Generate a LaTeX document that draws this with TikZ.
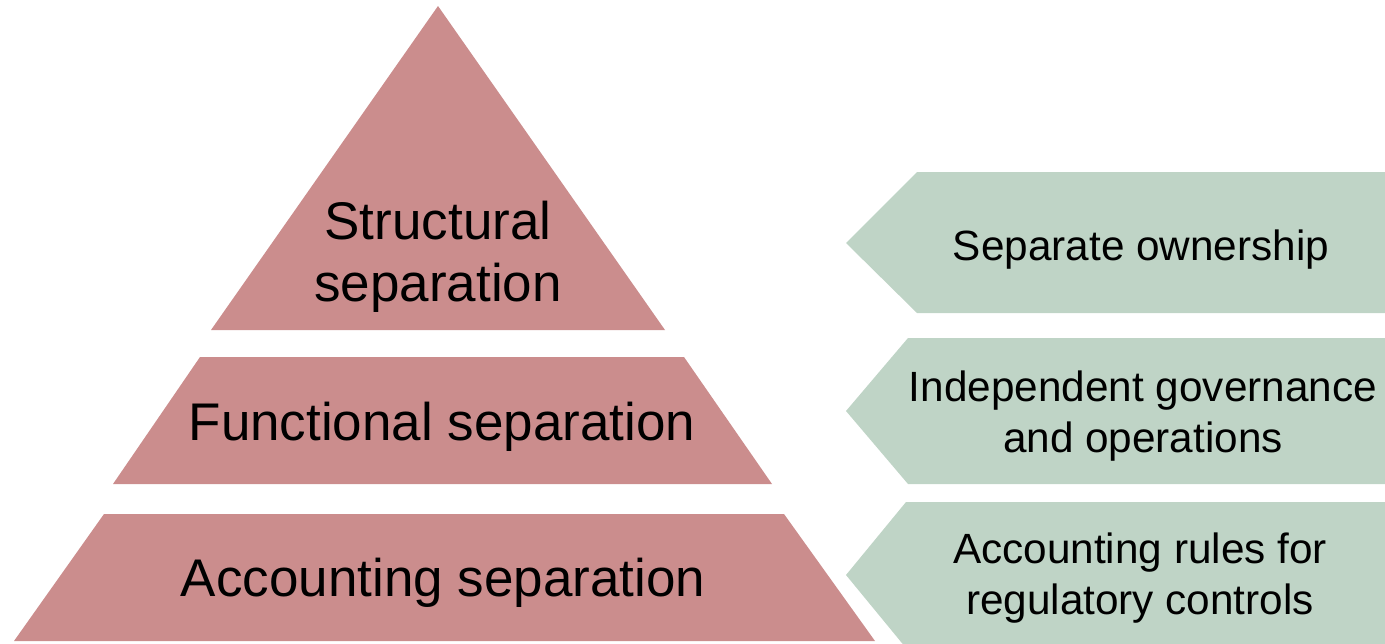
\documentclass[tikz,border=0pt]{standalone}
\usepackage{fontspec}
\setmainfont{Liberation Sans}
\definecolor{layerpink}{RGB}{203,141,141}
\definecolor{arrowgreen}{RGB}{191,212,198}
\begin{document}
\begin{tikzpicture}[x=1pt,y=-1pt,
  layer/.style={fill=layerpink,draw=none},
  tag/.style={fill=arrowgreen,draw=none},
  bigtext/.style={font=\fontsize{53}{62}\selectfont,align=center,inner sep=0pt,text=black},
  smalltext/.style={font=\fontsize{42.3}{51}\selectfont,align=center,inner sep=0pt,text=black}]
\useasboundingbox (0,0) rectangle (1385,643);
\clip (0,0) rectangle (1385,643);
% pyramid layers
\fill[layer] (438,6) -- (211,330) -- (665,330) -- cycle;
\fill[layer] (200,357) -- (684,357) -- (772,484) -- (113,484) -- cycle;
\fill[layer] (104,514) -- (784,514) -- (875,641) -- (14,641) -- cycle;
% arrows
\fill[tag] (846,243) -- (917,172) -- (1385,172) -- (1385,313) -- (917,313) -- cycle;
\fill[tag] (846,411) -- (908,338) -- (1385,338) -- (1385,484) -- (908,484) -- cycle;
\fill[tag] (846,575) -- (906,502) -- (1385,502) -- (1385,648) -- (906,648) -- cycle;
% texts
\node[bigtext] (structural) at (438,257) {Structural\\separation};
\node[bigtext,anchor=base] (functional) at (442,440) {Functional separation};
\node[bigtext,anchor=base] (accounting) at (443,596) {Accounting separation};
\node[smalltext,anchor=base] (ownership) at (1141,260) {Separate ownership};
\node[smalltext] (governance) at (1143,416) {Independent governance\\and operations};
\node[smalltext] (rules) at (1140,578) {Accounting rules for\\regulatory controls};
\end{tikzpicture}
\end{document}
